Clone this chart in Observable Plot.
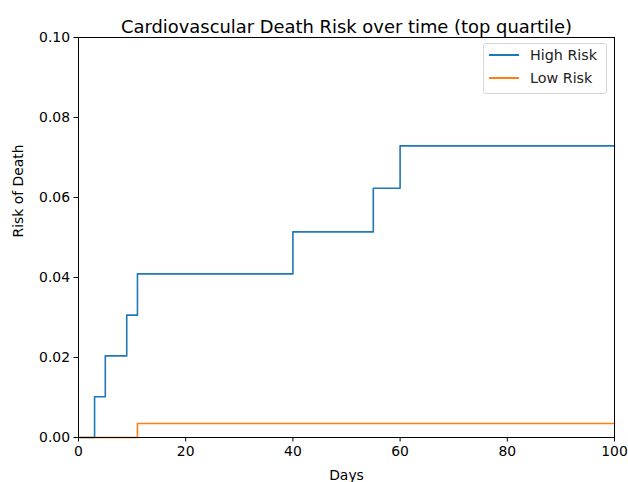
<!DOCTYPE html>
<html><head><meta charset="utf-8">
<script src="https://cdn.jsdelivr.net/npm/d3@7"></script>
<script src="https://cdn.jsdelivr.net/npm/@observablehq/plot@0.6"></script>
<style>
body{margin:0;background:#fff;font-family:"DejaVu Sans",sans-serif;}
#wrap{position:relative;width:628px;height:482px;}
#legend{position:absolute;left:483px;top:43px;width:124px;height:51px;border:1px solid #d6d6d6;border-radius:3px;background:rgba(255,255,255,0.8);font-size:14.3px;color:#222;box-sizing:border-box;}
.li{position:absolute;left:5px;display:flex;align-items:center;}
.sw{width:30px;height:0;border-top:2px solid;margin-right:11px;}
</style></head>
<body><div id="wrap"><div id="chart"></div>
<div id="legend"></div></div>
<script>
const title = "Cardiovascular Death Risk over time (top quartile)";
const xLabel = "Days";
const yLabel = "Risk of Death";
const seriesNames = ["High Risk", "Low Risk"];
const seriesColors = ["#1f77b4", "#ff7f0e"];
const highDays = [0, 3, 5, 9, 11, 40, 55, 60, 100];
const highRisk = [0, 0.0102, 0.0204, 0.0306, 0.0409, 0.0514, 0.0623, 0.0729, 0.0729];
const lowDays = [0, 11, 100];
const lowRisk = [0, 0.0035, 0.0035];
const xTicks = [0, 20, 40, 60, 80, 100];
const yTicks = [0, 0.02, 0.04, 0.06, 0.08, 0.10];

const data = [
  ...highDays.map((d, i) => ({day: d, risk: highRisk[i], s: seriesNames[0]})),
  ...lowDays.map((d, i) => ({day: d, risk: lowRisk[i], s: seriesNames[1]}))
];

const W = 628, H = 482, mL = 78, mR = 14, mT = 37, mB = 45;
const chart = Plot.plot({
  width: W, height: H,
  marginLeft: mL, marginRight: mR, marginTop: mT, marginBottom: mB,
  style: {fontFamily: "DejaVu Sans, sans-serif", fontSize: "13.9px", color: "#000", background: "#fff"},
  x: {domain: [0, 100], ticks: xTicks, tickSize: 4.5, tickPadding: 4, label: null, tickFormat: d => d},
  y: {domain: [0, 0.1], ticks: yTicks, tickSize: 4.5, tickPadding: 4, label: null, tickFormat: d3.format(".2f")},
  color: {domain: seriesNames, range: seriesColors},
  marks: [
    Plot.line(data, {x: "day", y: "risk", z: "s", stroke: "s", curve: "step-after", strokeWidth: 1.6}),
    Plot.frame({stroke: "#000", strokeWidth: 1}),
    Plot.text([title], {frameAnchor: "top", dy: -17, fontSize: 17.9, text: d => d}),
    Plot.text([xLabel], {frameAnchor: "bottom", dy: 42, text: d => d}),
    Plot.text([yLabel], {frameAnchor: "left", dx: -60, rotate: -90, text: d => d})
  ]
});
document.getElementById("chart").appendChild(chart);

const lg = document.getElementById("legend");
seriesNames.forEach((n, i) => {
  const el = document.createElement("div");
  el.className = "li";
  el.style.top = (3 + i * 23) + "px";
  el.innerHTML = `<span class="sw" style="border-color:${seriesColors[i]}"></span><span>${n}</span>`;
  lg.appendChild(el);
});
</script></body></html>
